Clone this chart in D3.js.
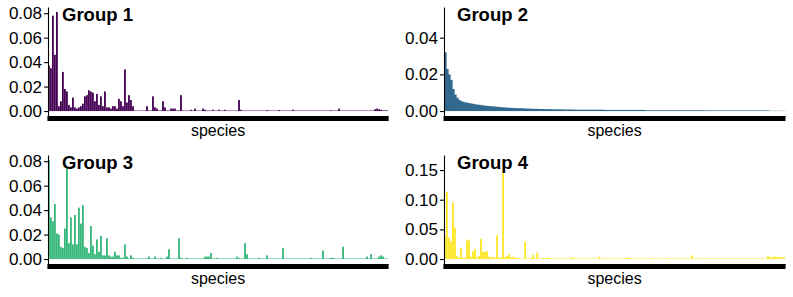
<!DOCTYPE html>
<html>
<head>
<meta charset="utf-8">
<script src="https://cdn.jsdelivr.net/npm/d3@7"></script>
<style>
  html, body { margin: 0; padding: 0; background: #fff; }
  svg { display: block; }
  text { font-family: "Liberation Sans", Arial, Helvetica, sans-serif; }
</style>
</head>
<body>
<svg id="chart" width="793" height="297"></svg>
<script>
// ---------------- data ----------------
const groupNames = ["Group 1", "Group 2", "Group 3", "Group 4"];
const groupColors = ["#440154", "#31688E", "#35B779", "#FDE725"];
const species = d3.range(1, 171).map(i => "sp" + i);

const group1 = [
  0.037, 0.035, 0.078, 0.046, 0.081, 0.004, 0.008, 0.032, 0.018, 0.016,
  0.005, 0.003, 0.011, 0.003, 0.002, 0.003, 0.004, 0.006, 0.012, 0.013,
  0.017, 0.016, 0.015, 0.008, 0.014, 0.005, 0.012, 0.004, 0.016, 0.003,
  0.003, 0.002, 0.004, 0.004, 0.002, 0.010, 0.008, 0.004, 0.034, 0.007,
  0.013, 0.009, 0.004, 0.0005, 0.0004, 0.0004, 0.0004, 0.0004, 0.0004, 0.004,
  0.0005, 0.0005, 0.012, 0.003, 0.002, 0.0005, 0.0005, 0.008, 0.003, 0.0005,
  0.0005, 0.002, 0.002, 0.002, 0.0005, 0.0005, 0.013, 0.0005, 0.0004, 0.0004,
  0.0004, 0.001, 0.0004, 0.002, 0.0004, 0.0004, 0.0004, 0.002, 0.001, 0.0004,
  0.0004, 0.0004, 0.001, 0.0004, 0.0004, 0.001, 0.0004, 0.0004, 0.001, 0.0004,
  0.0004, 0.0004, 0.0004, 0.0004, 0.0004, 0.009, 0.001, 0.0004, 0.0004, 0.0004,
  0.0004, 0.0004, 0.0004, 0.0004, 0.0004, 0.0004, 0.0004, 0.0004, 0.0004, 0.0008,
  0.0004, 0.0004, 0.0004, 0.0004, 0.0004, 0.0008, 0.0004, 0.0004, 0.0004, 0.0004,
  0.0004, 0.0004, 0.001, 0.0004, 0.0004, 0.0004, 0.0004, 0.0004, 0.0004, 0.0004,
  0.0004, 0.0004, 0.0004, 0.0004, 0.0004, 0.0004, 0.0004, 0.0004, 0.0004, 0.0004,
  0.0004, 0.0007, 0.0004, 0.0004, 0.0004, 0.002, 0.0004, 0.0004, 0.0004, 0.0004,
  0.0004, 0.0004, 0.0004, 0.0004, 0.0004, 0.0004, 0.0004, 0.0004, 0.0004, 0.0004,
  0.0004, 0.0004, 0.0004, 0.0015, 0.002, 0.0015, 0.001, 0.0006, 0.0006, 0.0006
];

const group2 = [
  0.032, 0.023, 0.020, 0.017, 0.012, 0.009, 0.0072, 0.006, 0.0054, 0.0050,
  0.0047, 0.0045, 0.0043, 0.0041, 0.0039, 0.0037, 0.0035, 0.0034, 0.0032, 0.0031,
  0.0029, 0.0028, 0.0027, 0.0026, 0.0025, 0.0024, 0.0023, 0.0022, 0.0021, 0.0020,
  0.0019, 0.0018, 0.0018, 0.0017, 0.0017, 0.0016, 0.0016, 0.0015, 0.0015, 0.0014,
  0.0014, 0.0013, 0.0013, 0.0013, 0.0012, 0.0012, 0.0012, 0.0011, 0.0011, 0.0011,
  0.0010, 0.0010, 0.0010, 0.0010, 0.0009, 0.0009, 0.0009, 0.0009, 0.0009, 0.0008,
  0.0008, 0.0008, 0.0008, 0.0008, 0.0008, 0.0007, 0.0007, 0.0007, 0.0007, 0.0007,
  0.0007, 0.0007, 0.0007, 0.0007, 0.0007, 0.0007, 0.0007, 0.0007, 0.0007, 0.0007,
  0.0006, 0.0006, 0.0006, 0.0006, 0.0006, 0.0006, 0.0006, 0.0006, 0.0006, 0.0006,
  0.0006, 0.0006, 0.0006, 0.0006, 0.0006, 0.0006, 0.0006, 0.0006, 0.0006, 0.0006,
  0.0004, 0.0004, 0.0004, 0.0004, 0.0004, 0.0004, 0.0004, 0.0004, 0.0004, 0.0004,
  0.0004, 0.0004, 0.0004, 0.0004, 0.0004, 0.0004, 0.0004, 0.0004, 0.0004, 0.0004,
  0.0004, 0.0004, 0.0004, 0.0004, 0.0004, 0.0004, 0.0004, 0.0004, 0.0004, 0.0004,
  0.0003, 0.0003, 0.0003, 0.0003, 0.0003, 0.0003, 0.0003, 0.0003, 0.0003, 0.0003,
  0.0003, 0.0003, 0.0003, 0.0003, 0.0003, 0.0003, 0.0003, 0.0003, 0.0003, 0.0003,
  0.0003, 0.0003, 0.0003, 0.0003, 0.0003, 0.0003, 0.0003, 0.0003, 0.0003, 0.0003,
  0.0003, 0.0003, 0.0001, 0.0001, 0.0001, 0.0001, 0.0001, 0.0001, 0.0001, 0.0001
];

const group3 = [
  0.081, 0.034, 0.031, 0.045, 0.021, 0.020, 0.010, 0.009, 0.025, 0.074,
  0.013, 0.034, 0.012, 0.036, 0.012, 0.042, 0.029, 0.044, 0.010, 0.009,
  0.005, 0.027, 0.011, 0.004, 0.016, 0.006, 0.019, 0.003, 0.003, 0.017,
  0.003, 0.002, 0.002, 0.006, 0.003, 0.003, 0.001, 0.001, 0.012, 0.002,
  0.0005, 0.003, 0.001, 0.0005, 0.0005, 0.0005, 0.0005, 0.0005, 0.0005, 0.0005,
  0.002, 0.0005, 0.0005, 0.002, 0.0005, 0.0005, 0.001, 0.0005, 0.0005, 0.002,
  0.008, 0.0005, 0.0005, 0.0005, 0.0005, 0.017, 0.001, 0.0005, 0.0005, 0.001,
  0.0005, 0.0005, 0.0005, 0.0005, 0.0005, 0.0005, 0.0005, 0.0005, 0.002, 0.002,
  0.002, 0.005, 0.0005, 0.0005, 0.001, 0.0005, 0.0005, 0.0005, 0.0005, 0.0005,
  0.0005, 0.0005, 0.0005, 0.0005, 0.002, 0.001, 0.0005, 0.0005, 0.013, 0.004,
  0.0005, 0.0005, 0.0005, 0.0005, 0.0005, 0.001, 0.0005, 0.0005, 0.0005, 0.003,
  0.0005, 0.0005, 0.0005, 0.0005, 0.0005, 0.0005, 0.0005, 0.009, 0.0005, 0.0005,
  0.0005, 0.0005, 0.0005, 0.0005, 0.0005, 0.0005, 0.0005, 0.0005, 0.0005, 0.0005,
  0.0005, 0.001, 0.0005, 0.0005, 0.0005, 0.0005, 0.0005, 0.007, 0.0005, 0.0005,
  0.0005, 0.001, 0.001, 0.0005, 0.0005, 0.0005, 0.0005, 0.010, 0.0005, 0.0005,
  0.0005, 0.0005, 0.0005, 0.0005, 0.0005, 0.0005, 0.0005, 0.0005, 0.0005, 0.002,
  0.0005, 0.004, 0.0005, 0.0005, 0.0005, 0.002, 0.003, 0.002, 0.0005, 0.0005
];

const group4 = [
  0.037, 0.113, 0.036, 0.030, 0.095, 0.053, 0.005, 0.002, 0.019, 0.002,
  0.002, 0.031, 0.033, 0.004, 0.013, 0.017, 0.003, 0.005, 0.034, 0.012,
  0.012, 0.013, 0.004, 0.003, 0.004, 0.002, 0.040, 0.002, 0.003, 0.167,
  0.003, 0.005, 0.008, 0.003, 0.004, 0.002, 0.002, 0.001, 0.001, 0.001,
  0.029, 0.001, 0.001, 0.002, 0.007, 0.001, 0.011, 0.001, 0.001, 0.002,
  0.001, 0.002, 0.002, 0.001, 0.001, 0.001, 0.001, 0.001, 0.001, 0.001,
  0.001, 0.001, 0.001, 0.002, 0.003, 0.001, 0.001, 0.001, 0.001, 0.001,
  0.001, 0.001, 0.001, 0.001, 0.001, 0.001, 0.001, 0.004, 0.001, 0.001,
  0.001, 0.001, 0.001, 0.001, 0.001, 0.001, 0.001, 0.001, 0.001, 0.001,
  0.001, 0.002, 0.002, 0.001, 0.001, 0.001, 0.001, 0.001, 0.001, 0.001,
  0.001, 0.001, 0.001, 0.002, 0.001, 0.001, 0.001, 0.001, 0.001, 0.001,
  0.001, 0.002, 0.001, 0.001, 0.001, 0.001, 0.001, 0.001, 0.001, 0.001,
  0.001, 0.001, 0.001, 0.006, 0.001, 0.001, 0.001, 0.001, 0.001, 0.001,
  0.001, 0.001, 0.001, 0.001, 0.001, 0.001, 0.001, 0.001, 0.001, 0.001,
  0.001, 0.001, 0.001, 0.001, 0.001, 0.001, 0.001, 0.001, 0.001, 0.001,
  0.001, 0.001, 0.001, 0.001, 0.001, 0.001, 0.001, 0.001, 0.001, 0.001,
  0.001, 0.006, 0.003, 0.003, 0.004, 0.004, 0.003, 0.003, 0.003, 0.003
];

const groupValues = [group1, group2, group3, group4];
// upper limit of each panel's (free) y scale
const yLimits = [0.081, 0.054, 0.081, 0.167];
const yTicks = [
  [0, 0.02, 0.04, 0.06, 0.08],
  [0, 0.02, 0.04],
  [0, 0.02, 0.04, 0.06, 0.08],
  [0, 0.05, 0.10, 0.15]
];

// ---------------- layout ----------------
const panels = [
  { x0: 48,  x1: 388, y0: 7,   y1: 116 },
  { x0: 444, x1: 785, y0: 7,   y1: 116 },
  { x0: 48,  x1: 388, y0: 155, y1: 264 },
  { x0: 444, x1: 785, y0: 155, y1: 264 }
];

const svg = d3.select("#chart");

panels.forEach((p, k) => {
  const vals = groupValues[k];
  const data = species.map((s, i) => ({ sp: s, v: vals[i] }));
  const M = yLimits[k];

  const x = d3.scaleBand().domain(species).range([p.x0, p.x1])
    .paddingInner(k === 1 ? 0 : 0.1).paddingOuter(0);
  const y = d3.scaleLinear().domain([-0.05 * M, 1.05 * M]).range([p.y1, p.y0]);

  const g = svg.append("g");

  g.append("g").selectAll("rect").data(data).join("rect")
    .attr("x", d => x(d.sp))
    .attr("width", k === 1 ? x.bandwidth() + 0.6 : x.bandwidth())
    .attr("y", d => y(d.v))
    .attr("height", d => y(0) - y(d.v))
    .attr("fill", groupColors[k]);

  // y axis
  const yAxis = d3.axisLeft(y).tickValues(yTicks[k])
    .tickFormat(d3.format(".2f")).tickSizeInner(4).tickSizeOuter(0).tickPadding(2);
  const ya = g.append("g").attr("transform", `translate(${p.x0},0)`).call(yAxis);
  ya.select(".domain").attr("stroke", "#000").attr("stroke-width", 1.1);
  ya.selectAll(".tick line").attr("stroke", "#000").attr("stroke-width", 1.1);
  ya.selectAll(".tick text").attr("fill", "#000").style("font-size", "17px");

  // x axis (dense species ticks, no labels)
  const xAxis = d3.axisBottom(x).tickFormat("").tickSizeInner(5).tickSizeOuter(0);
  const xa = g.append("g").attr("transform", `translate(0,${p.y1})`).call(xAxis);
  xa.select(".domain").attr("stroke", "#000").attr("stroke-width", 1.1);
  xa.selectAll(".tick line").attr("stroke", "#000").attr("stroke-width", 3);

  // axis title
  g.append("text")
    .attr("x", (p.x0 + p.x1) / 2)
    .attr("y", p.y1 + 20)
    .attr("text-anchor", "middle")
    .attr("fill", "#000")
    .style("font-size", "16px")
    .text("species");

  // group label
  g.append("text")
    .attr("x", p.x0 + (k % 2 === 0 ? 14 : 13))
    .attr("y", p.y0 + 14)
    .attr("fill", "#000")
    .style("font-size", "18.5px")
    .style("font-weight", "bold")
    .text(groupNames[k]);
});
</script>
</body>
</html>
